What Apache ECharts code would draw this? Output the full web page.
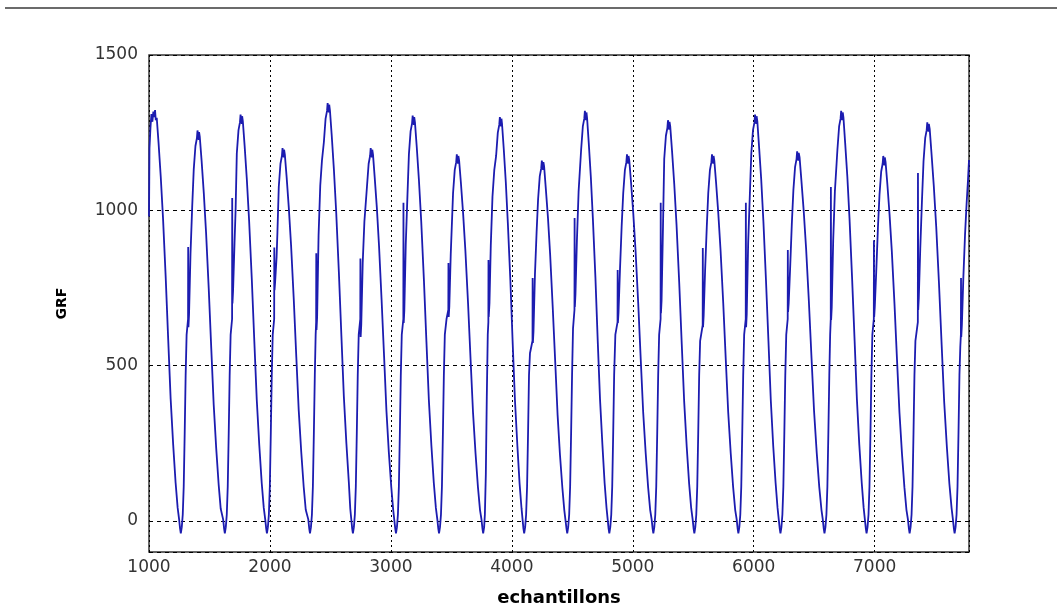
<!DOCTYPE html>
<html>
<head>
<meta charset="utf-8">
<script src="https://cdn.jsdelivr.net/npm/echarts@6/dist/echarts.min.js"></script>
<style>
html,body{margin:0;padding:0;background:#fff;}
#chart{width:1057px;height:613px;}
</style>
</head>
<body>
<div id="chart"></div>
<script>
// Axis ranges and labels
const xRange = [1000, 7780];
const yRange = [-100, 1500];
const xName = 'echantillons';
const yName = 'GRF';

// GRF signal, one array per stride: [sample, GRF]
const stride01 = [[1000,980],[1004,1200],[1012,1265],[1020,1310],[1028,1285],[1036,1318],[1044,1300],[1050,1323],[1056,1290],[1064,1298],[1079,1217],[1097,1109],[1116,974],[1138,785],[1159,582],[1179,393],[1200,245],[1220,123],[1237,42],[1249,5],[1257,-25],[1263,-40],[1271,-20]];
const stride02 = [[1279,20],[1287,110],[1295,280],[1303,470],[1311,600],[1323,650],[1324,882],[1326,624],[1331,664],[1343,858],[1357,1010],[1370,1132],[1384,1207],[1396,1232],[1401,1257],[1406,1262],[1411,1227],[1414,1252],[1420,1236],[1435,1159],[1453,1056],[1472,927],[1494,747],[1515,554],[1535,374],[1556,232],[1576,117],[1593,39],[1613,5],[1621,-25],[1627,-40],[1635,-20]];
const stride03 = [[1643,20],[1651,110],[1659,280],[1667,470],[1675,600],[1687,650],[1688,1040],[1690,700],[1695,740],[1707,893],[1716,1000],[1726,1183],[1740,1258],[1752,1283],[1757,1308],[1762,1313],[1767,1278],[1770,1303],[1776,1286],[1791,1206],[1809,1099],[1828,965],[1850,778],[1871,577],[1891,390],[1912,243],[1932,122],[1949,42],[1961,5],[1969,-25],[1975,-40],[1983,-20]];
const stride04 = [[1991,20],[1999,110],[2007,280],[2015,470],[2023,600],[2035,650],[2036,880],[2038,743],[2043,770],[2055,850],[2062,930],[2073,1075],[2087,1150],[2099,1175],[2104,1200],[2109,1205],[2114,1170],[2117,1195],[2123,1180],[2138,1107],[2156,1008],[2175,885],[2197,713],[2218,528],[2238,356],[2259,221],[2279,110],[2296,36],[2317,5],[2325,-25],[2331,-40],[2339,-20]];
const stride05 = [[2347,20],[2355,110],[2363,280],[2371,470],[2378,600],[2382,640],[2383,862],[2385,615],[2390,655],[2402,918],[2416,1080],[2430,1160],[2446,1220],[2460,1295],[2472,1320],[2477,1345],[2482,1350],[2487,1315],[2490,1340],[2496,1322],[2511,1240],[2529,1130],[2548,992],[2570,800],[2591,594],[2611,401],[2632,250],[2652,126],[2664,40],[2680,-25],[2686,-40],[2694,-20]];
const stride06 = [[2702,20],[2710,110],[2718,280],[2726,470],[2734,600],[2747,650],[2748,845],[2750,592],[2755,632],[2767,830],[2781,964],[2802,1075],[2816,1150],[2828,1175],[2833,1200],[2838,1205],[2843,1170],[2846,1195],[2852,1180],[2866,1107],[2884,1008],[2902,885],[2923,713],[2944,528],[2963,356],[2983,221],[3003,110],[3019,36],[3036,-25],[3042,-40],[3050,-20]];
const stride07 = [[3058,20],[3066,110],[3074,280],[3082,470],[3090,600],[3103,650],[3104,1024],[3106,637],[3111,677],[3123,890],[3137,1048],[3149,1180],[3163,1255],[3175,1280],[3180,1305],[3185,1310],[3190,1275],[3193,1300],[3199,1283],[3214,1203],[3232,1096],[3251,963],[3273,776],[3294,576],[3314,389],[3335,242],[3355,122],[3372,42],[3384,5],[3392,-25],[3398,-40],[3406,-20]];
const stride08 = [[3414,20],[3422,110],[3430,280],[3438,470],[3446,600],[3460,650],[3475,680],[3476,830],[3478,657],[3483,690],[3495,860],[3514,1055],[3528,1130],[3540,1155],[3545,1180],[3550,1185],[3555,1150],[3558,1175],[3564,1161],[3579,1088],[3597,991],[3616,870],[3638,701],[3659,519],[3679,350],[3700,217],[3720,108],[3737,35],[3749,5],[3757,-25],[3763,-40],[3771,-20]];
const stride09 = [[3777,20],[3785,150],[3793,400],[3801,600],[3806,640],[3807,840],[3809,657],[3815,700],[3826,887],[3840,1044],[3855,1130],[3870,1175],[3884,1250],[3896,1275],[3901,1300],[3906,1305],[3911,1270],[3914,1295],[3919,1278],[3933,1199],[3950,1092],[3967,959],[3988,773],[4007,573],[4026,387],[4046,241],[4064,121],[4080,41],[4096,-25],[4102,-40],[4110,-20]];
const stride10 = [[4118,20],[4126,110],[4134,280],[4142,470],[4150,540],[4171,580],[4172,782],[4174,573],[4179,610],[4191,792],[4205,932],[4217,1035],[4231,1110],[4243,1135],[4248,1160],[4253,1165],[4258,1130],[4261,1155],[4267,1141],[4281,1070],[4299,975],[4317,856],[4338,689],[4359,510],[4378,344],[4398,213],[4418,106],[4434,34],[4452,-25],[4458,-40],[4466,-20]];
const stride11 = [[4474,20],[4482,110],[4490,280],[4498,470],[4506,620],[4518,680],[4519,975],[4521,689],[4526,729],[4538,901],[4552,1060],[4573,1195],[4587,1270],[4599,1295],[4604,1320],[4609,1325],[4614,1290],[4617,1315],[4622,1298],[4636,1217],[4653,1109],[4670,974],[4691,785],[4710,582],[4729,393],[4749,245],[4767,123],[4783,42],[4800,-25],[4806,-40],[4814,-20]];
const stride12 = [[4822,20],[4830,110],[4838,280],[4846,470],[4856,600],[4874,640],[4875,808],[4877,637],[4882,670],[4894,806],[4908,948],[4921,1055],[4935,1130],[4947,1155],[4952,1180],[4957,1185],[4962,1150],[4965,1175],[4971,1161],[4986,1088],[5004,991],[5023,870],[5045,701],[5066,519],[5086,350],[5107,217],[5127,108],[5144,35],[5156,5],[5164,-25],[5170,-40],[5178,-20]];
const stride13 = [[5186,20],[5194,110],[5202,280],[5210,470],[5218,600],[5230,650],[5231,1024],[5233,669],[5238,709],[5250,950],[5260,1165],[5274,1240],[5286,1265],[5291,1290],[5296,1295],[5301,1260],[5304,1285],[5310,1269],[5325,1189],[5343,1084],[5362,952],[5384,767],[5405,569],[5425,384],[5446,239],[5466,120],[5483,41],[5495,5],[5503,-25],[5509,-40],[5517,-20]];
const stride14 = [[5525,20],[5533,110],[5541,280],[5549,470],[5557,580],[5578,630],[5579,879],[5581,624],[5586,660],[5598,806],[5612,948],[5624,1055],[5638,1130],[5650,1155],[5655,1180],[5660,1185],[5665,1150],[5668,1175],[5674,1161],[5689,1088],[5707,991],[5726,870],[5748,701],[5769,519],[5789,350],[5810,217],[5830,108],[5847,35],[5859,5],[5867,-25],[5873,-40],[5881,-20]];
const stride15 = [[5889,20],[5897,110],[5905,280],[5913,470],[5921,600],[5934,650],[5935,1024],[5937,624],[5942,664],[5954,893],[5968,1050],[5980,1183],[5994,1258],[6006,1283],[6011,1308],[6016,1313],[6021,1278],[6024,1303],[6030,1286],[6044,1206],[6062,1099],[6080,965],[6101,778],[6122,577],[6141,390],[6161,243],[6181,122],[6197,42],[6215,-25],[6221,-40],[6229,-20]];
const stride16 = [[6237,20],[6245,110],[6253,280],[6261,470],[6269,600],[6281,650],[6282,872],[6284,673],[6289,700],[6301,813],[6315,956],[6328,1065],[6342,1140],[6354,1165],[6359,1190],[6364,1195],[6369,1160],[6372,1185],[6379,1171],[6394,1097],[6413,1000],[6433,878],[6456,707],[6478,524],[6499,353],[6521,219],[6542,109],[6560,36],[6571,5],[6579,-25],[6585,-40],[6593,-20]];
const stride17 = [[6601,20],[6609,110],[6617,280],[6625,470],[6632,600],[6637,650],[6638,1075],[6640,647],[6645,687],[6657,901],[6671,1060],[6685,1150],[6692,1195],[6706,1270],[6718,1295],[6723,1320],[6728,1325],[6733,1290],[6736,1315],[6742,1298],[6756,1217],[6774,1109],[6792,974],[6813,785],[6834,582],[6853,393],[6873,245],[6893,123],[6909,42],[6927,-25],[6933,-40],[6941,-20]];
const stride18 = [[6949,20],[6957,110],[6965,280],[6973,470],[6981,600],[6993,650],[6994,904],[6996,657],[7001,690],[7013,802],[7027,944],[7040,1050],[7054,1125],[7066,1150],[7071,1175],[7076,1180],[7081,1145],[7084,1170],[7090,1156],[7105,1084],[7123,987],[7142,867],[7164,698],[7185,517],[7205,349],[7226,216],[7246,108],[7263,35],[7275,5],[7283,-25],[7289,-40],[7297,-20]];
const stride19 = [[7305,20],[7313,110],[7321,280],[7329,470],[7337,580],[7357,640],[7358,1120],[7360,679],[7365,719],[7377,876],[7391,1030],[7404,1158],[7418,1233],[7430,1258],[7435,1283],[7440,1288],[7445,1253],[7448,1278],[7455,1262],[7470,1183],[7489,1078],[7509,947],[7532,763],[7554,566],[7575,382],[7597,238],[7618,119],[7636,41],[7647,5],[7655,-25],[7661,-40],[7669,-20]];
const stride20 = [[7677,20],[7685,110],[7693,280],[7701,470],[7708,560],[7713,600],[7714,782],[7716,592],[7721,630],[7733,780],[7747,920],[7760,1020],[7772,1100],[7780,1162]];

const grfData = [].concat(stride01, stride02, stride03, stride04, stride05, stride06, stride07, stride08, stride09, stride10,
  stride11, stride12, stride13, stride14, stride15, stride16, stride17, stride18, stride19, stride20);

const chart = echarts.init(document.getElementById('chart'), null, {renderer: 'canvas'});
const labelFont = {fontFamily: 'DejaVu Sans', fontSize: 17, color: '#333'};
const plain = v => String(v);
chart.setOption({
  animation: false,
  backgroundColor: '#fff',
  graphic: [{
    type: 'line', silent: true,
    shape: {x1: 5, y1: 8, x2: 1057, y2: 8},
    style: {stroke: '#6b6b6b', lineWidth: 2}
  }],
  grid: {left: 149, right: 88, top: 55, bottom: 61, show: true, borderColor: '#333', borderWidth: 1.5, backgroundColor: '#fff'},
  xAxis: {
    type: 'value', min: xRange[0], max: xRange[1], interval: 1000,
    name: xName, nameLocation: 'middle', nameGap: 37,
    nameTextStyle: {fontFamily: 'DejaVu Sans', fontWeight: 'bold', fontSize: 18, color: '#000'},
    axisLine: {show: false}, axisTick: {show: false},
    axisLabel: Object.assign({margin: 7, showMaxLabel: false, showMinLabel: true, formatter: plain}, labelFont),
    splitLine: {show: true, lineStyle: {color: '#000', width: 1, type: [2, 3]}}
  },
  yAxis: {
    type: 'value', min: yRange[0], max: yRange[1], splitNumber: 3,
    name: yName, nameLocation: 'middle', nameGap: 80, nameRotate: 90,
    nameTextStyle: {fontFamily: 'DejaVu Sans', fontWeight: 'bold', fontSize: 14, color: '#000'},
    axisLine: {show: false}, axisTick: {show: false},
    axisLabel: Object.assign({margin: 11, showMinLabel: false, showMaxLabel: true, formatter: plain}, labelFont),
    splitLine: {show: true, lineStyle: {color: '#000', width: 1, type: [4, 4]}}
  },
  series: [{
    type: 'line', data: grfData, showSymbol: false, symbol: 'none',
    lineStyle: {color: '#1c1cb0', width: 1.8},
    itemStyle: {color: '#1c1cb0'}
  }]
});
</script>
</body>
</html>
